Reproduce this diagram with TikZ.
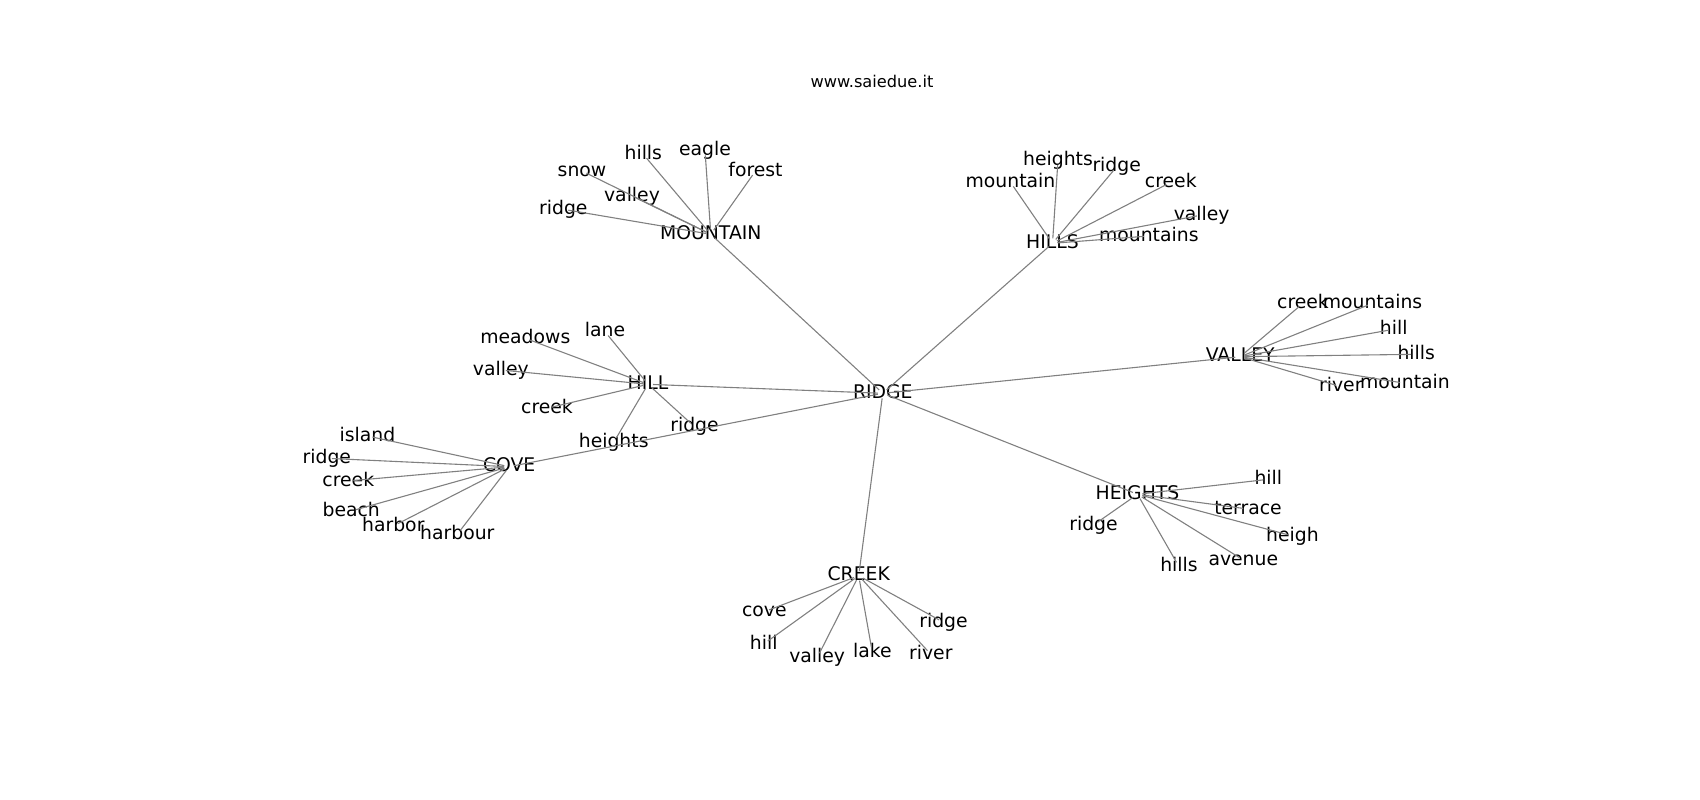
\documentclass[tikz,border=0pt]{standalone}
\usepackage{fontspec}
\setmainfont{DejaVu Sans}
\usepackage{tikz}

\begin{document}
\begin{tikzpicture}[x=1pt,y=-1pt]
\tikzstyle{every node}+=[inner sep=0pt]
\tikzstyle{word}=[font=\fontsize{18.8}{20}\selectfont, text height=14pt, text depth=4pt]
\tikzstyle{edge}=[draw=gray, line width=1.1pt, shorten >=5pt, shorten <=5pt]
\useasboundingbox (0,0) rectangle (1700,800);

\node [font=\fontsize{16.2}{18}\selectfont, anchor=base] (title) at (872,87.7) {www.saiedue.it};

\node [word] (ridge) at (882.8,393.3) {RIDGE};
\node [word] (mountain) at (710.8,234.3) {MOUNTAIN};
\node [word] (hills) at (1052.5,243.3) {HILLS};
\node [word] (valley) at (1240.2,356.7) {VALLEY};
\node [word] (heights) at (1137.5,494.3) {HEIGHTS};
\node [word] (creek) at (858.7,575.7) {CREEK};
\node [word] (cove) at (509.2,466.7) {COVE};
\node [word] (hill) at (648,384.3) {HILL};

\node [word] (mo-snow) at (582,171) {snow};
\node [word] (mo-hills) at (643.3,154.3) {hills};
\node [word] (mo-eagle) at (705,150.3) {eagle};
\node [word] (mo-forest) at (755.5,171) {forest};
\node [word] (mo-valley) at (632,196) {valley};
\node [word] (mo-ridge) at (563.3,209.3) {ridge};

\node [word] (hs-heights) at (1058,160) {heights};
\node [word] (hs-ridge) at (1116.7,166.7) {ridge};
\node [word] (hs-mountain) at (1010.5,182.3) {mountain};
\node [word] (hs-creek) at (1170.8,182.3) {creek};
\node [word] (hs-valley) at (1201.7,215) {valley};
\node [word] (hs-mountains) at (1148.8,236) {mountains};

\node [word] (va-creek) at (1303,303.3) {creek};
\node [word] (va-mountains) at (1372.5,303.3) {mountains};
\node [word] (va-hill) at (1393.7,329.3) {hill};
\node [word] (va-hills) at (1416.2,354.3) {hills};
\node [word] (va-river) at (1340.8,386.7) {river};
\node [word] (va-mountain) at (1405,383.3) {mountain};

\node [word] (hl-meadows) at (525.3,338.3) {meadows};
\node [word] (hl-lane) at (605,331.7) {lane};
\node [word] (hl-valley) at (500.8,370) {valley};
\node [word] (hl-creek) at (547,408.3) {creek};
\node [word] (hl-ridge) at (694.5,426.7) {ridge};
\node [word] (hl-heights) at (613.7,442.3) {heights};

\node [word] (co-island) at (367.5,436) {island};
\node [word] (co-ridge) at (326.8,458.3) {ridge};
\node [word] (co-creek) at (348.3,481) {creek};
\node [word] (co-beach) at (351.2,511) {beach};
\node [word] (co-harbor) at (393.3,526) {harbor};
\node [word] (co-harbour) at (457.3,534.3) {harbour};

\node [word] (he-hill) at (1268.3,479.3) {hill};
\node [word] (he-terrace) at (1248,509) {terrace};
\node [word] (he-ridge) at (1093.5,525) {ridge};
\node [word] (he-heigh) at (1292.5,536) {heigh};
\node [word] (he-hills) at (1179,566.7) {hills};
\node [word] (he-avenue) at (1243.3,560) {avenue};

\node [word] (cr-cove) at (764.3,611.7) {cove};
\node [word] (cr-ridge) at (943.5,622.3) {ridge};
\node [word] (cr-hill) at (763.7,644) {hill};
\node [word] (cr-valley) at (817.2,657.7) {valley};
\node [word] (cr-lake) at (872.3,652.3) {lake};
\node [word] (cr-river) at (930.8,654.3) {river};

\draw [edge] (ridge.center) -- (mountain.center);
\draw [edge] (ridge.center) -- (hills.center);
\draw [edge] (ridge.center) -- (valley.center);
\draw [edge] (ridge.center) -- (heights.center);
\draw [edge] (ridge.center) -- (creek.center);
\draw [edge] (ridge.center) -- (cove.center);
\draw [edge] (ridge.center) -- (hill.center);

\draw [edge] (mountain.center) -- (mo-snow.center);
\draw [edge] (mountain.center) -- (mo-hills.center);
\draw [edge] (mountain.center) -- (mo-eagle.center);
\draw [edge] (mountain.center) -- (mo-forest.center);
\draw [edge] (mountain.center) -- (mo-valley.center);
\draw [edge] (mountain.center) -- (mo-ridge.center);

\draw [edge] (hills.center) -- (hs-heights.center);
\draw [edge] (hills.center) -- (hs-ridge.center);
\draw [edge] (hills.center) -- (hs-mountain.center);
\draw [edge] (hills.center) -- (hs-creek.center);
\draw [edge] (hills.center) -- (hs-valley.center);
\draw [edge] (hills.center) -- (hs-mountains.center);

\draw [edge] (valley.center) -- (va-creek.center);
\draw [edge] (valley.center) -- (va-mountains.center);
\draw [edge] (valley.center) -- (va-hill.center);
\draw [edge] (valley.center) -- (va-hills.center);
\draw [edge] (valley.center) -- (va-river.center);
\draw [edge] (valley.center) -- (va-mountain.center);

\draw [edge] (hill.center) -- (hl-meadows.center);
\draw [edge] (hill.center) -- (hl-lane.center);
\draw [edge] (hill.center) -- (hl-valley.center);
\draw [edge] (hill.center) -- (hl-creek.center);
\draw [edge] (hill.center) -- (hl-ridge.center);
\draw [edge] (hill.center) -- (hl-heights.center);

\draw [edge] (cove.center) -- (co-island.center);
\draw [edge] (cove.center) -- (co-ridge.center);
\draw [edge] (cove.center) -- (co-creek.center);
\draw [edge] (cove.center) -- (co-beach.center);
\draw [edge] (cove.center) -- (co-harbor.center);
\draw [edge] (cove.center) -- (co-harbour.center);

\draw [edge] (heights.center) -- (he-hill.center);
\draw [edge] (heights.center) -- (he-terrace.center);
\draw [edge] (heights.center) -- (he-ridge.center);
\draw [edge] (heights.center) -- (he-heigh.center);
\draw [edge] (heights.center) -- (he-hills.center);
\draw [edge] (heights.center) -- (he-avenue.center);

\draw [edge] (creek.center) -- (cr-cove.center);
\draw [edge] (creek.center) -- (cr-ridge.center);
\draw [edge] (creek.center) -- (cr-hill.center);
\draw [edge] (creek.center) -- (cr-valley.center);
\draw [edge] (creek.center) -- (cr-lake.center);
\draw [edge] (creek.center) -- (cr-river.center);
\end{tikzpicture}
\end{document}
